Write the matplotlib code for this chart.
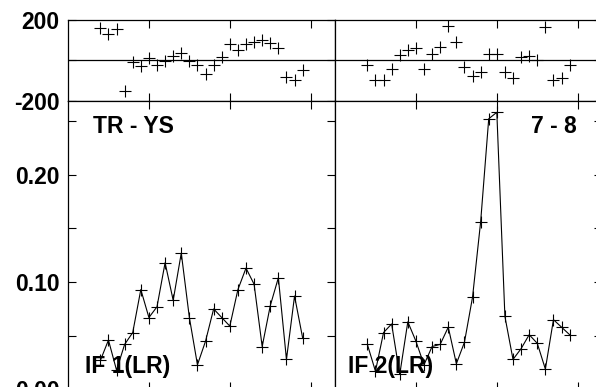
import matplotlib.pyplot as plt

plt.rcParams['font.family'] = ['Liberation Sans', 'DejaVu Sans']
plt.rcParams['font.weight'] = 'bold'

# channel positions (same for both baselines)
chan = [0.4, 0.5, 0.6, 0.7, 0.8, 0.9, 1.0, 1.1, 1.2, 1.3, 1.4, 1.5, 1.6,
        1.7, 1.8, 1.9, 2.0, 2.1, 2.2, 2.3, 2.4, 2.5, 2.6, 2.7, 2.8, 2.9]

# phases (deg)
phase_if1 = [160, 131, 155, -151, -11, -31, 11, -26, -6, 19, 36, -6, -26,
             -68, -26, 16, 80, 49, 80, 93, 102, 85, 61, -85, -97, -47]
phase_if2 = [-26, -97, -97, -44, 27, 52, 61, -44, 32, 65, 171, 90, -36,
             -80, -56, 32, 32, -56, -88, 14, 19, 2, 165, -97, -88, -26]

# amplitudes
amp_if1 = [0.027, 0.046, 0.018, 0.042, 0.053, 0.093, 0.067, 0.077, 0.118,
           0.083, 0.127, 0.067, 0.023, 0.045, 0.075, 0.067, 0.059, 0.093,
           0.113, 0.098, 0.040, 0.078, 0.104, 0.028, 0.087, 0.048]
amp_if2 = [0.042, 0.017, 0.053, 0.061, 0.014, 0.063, 0.045, 0.023, 0.040,
           0.042, 0.058, 0.024, 0.044, 0.086, 0.156, 0.252, 0.258, 0.068,
           0.028, 0.038, 0.051, 0.043, 0.019, 0.065, 0.058, 0.051]

W, H = 596, 387
fig = plt.figure(figsize=(W / 100, H / 100), dpi=100)


def rect(l, t, w, h):
    return [l / W, (H - t - h) / H, w / W, h / H]


ax_p1 = fig.add_axes(rect(68, 20, 267, 80.5))
ax_p2 = fig.add_axes(rect(335, 20, 267, 80.5))
ax_a1 = fig.add_axes(rect(68, 100.5, 267, 289))
ax_a2 = fig.add_axes(rect(335, 100.5, 267, 289))

mk = dict(color='black', ms=9, mew=0.8)

# phase panels
for ax, ph in [(ax_p1, phase_if1), (ax_p2, phase_if2)]:
    ax.plot(chan, ph, '+', linestyle='none', **mk)
    ax.axhline(0, color='black', lw=0.9)
    ax.set_ylim(-200, 200)
    ax.set_yticks([-200, 0, 200])
    ax.set_yticklabels(['-200', '', '200'])

# amplitude panels
for ax, am in [(ax_a1, amp_if1), (ax_a2, amp_if2)]:
    ax.plot(chan, am, '-', marker='+', lw=0.8, **mk)
    ax.set_ylim(0, 0.269)
    ax.set_yticks([0.0, 0.1, 0.2])
    ax.set_yticks([0.05, 0.15, 0.25], minor=True)
    ax.set_yticklabels(['0.00', '0.10', '0.20'])

for ax in [ax_p1, ax_p2, ax_a1, ax_a2]:
    ax.set_xlim(0, 3.3)
    ax.set_xticks([1, 2, 3])
    ax.tick_params(which='both', direction='in', top=True, right=True,
                   length=6, width=0.8, labelbottom=False, labelsize=16.5,
                   pad=6)
    for s in ax.spines.values():
        s.set_linewidth(0.9)

for ax in [ax_p2, ax_a2]:
    ax.tick_params(which='both', left=False, labelleft=False)

ax_a1.text(0.094, 0.887, 'TR - YS', transform=ax_a1.transAxes,
           fontsize=16.5, fontweight='bold', va='baseline')
ax_a2.text(0.906, 0.887, '7 - 8', transform=ax_a2.transAxes,
           fontsize=16.5, fontweight='bold', va='baseline', ha='right')
ax_a1.text(0.064, 0.058, 'IF 1(LR)', transform=ax_a1.transAxes,
           fontsize=16.5, fontweight='bold', va='baseline')
ax_a2.text(0.049, 0.057, 'IF 2(LR)', transform=ax_a2.transAxes,
           fontsize=16.5, fontweight='bold', va='baseline')

fig.savefig('out.png', dpi=100)
